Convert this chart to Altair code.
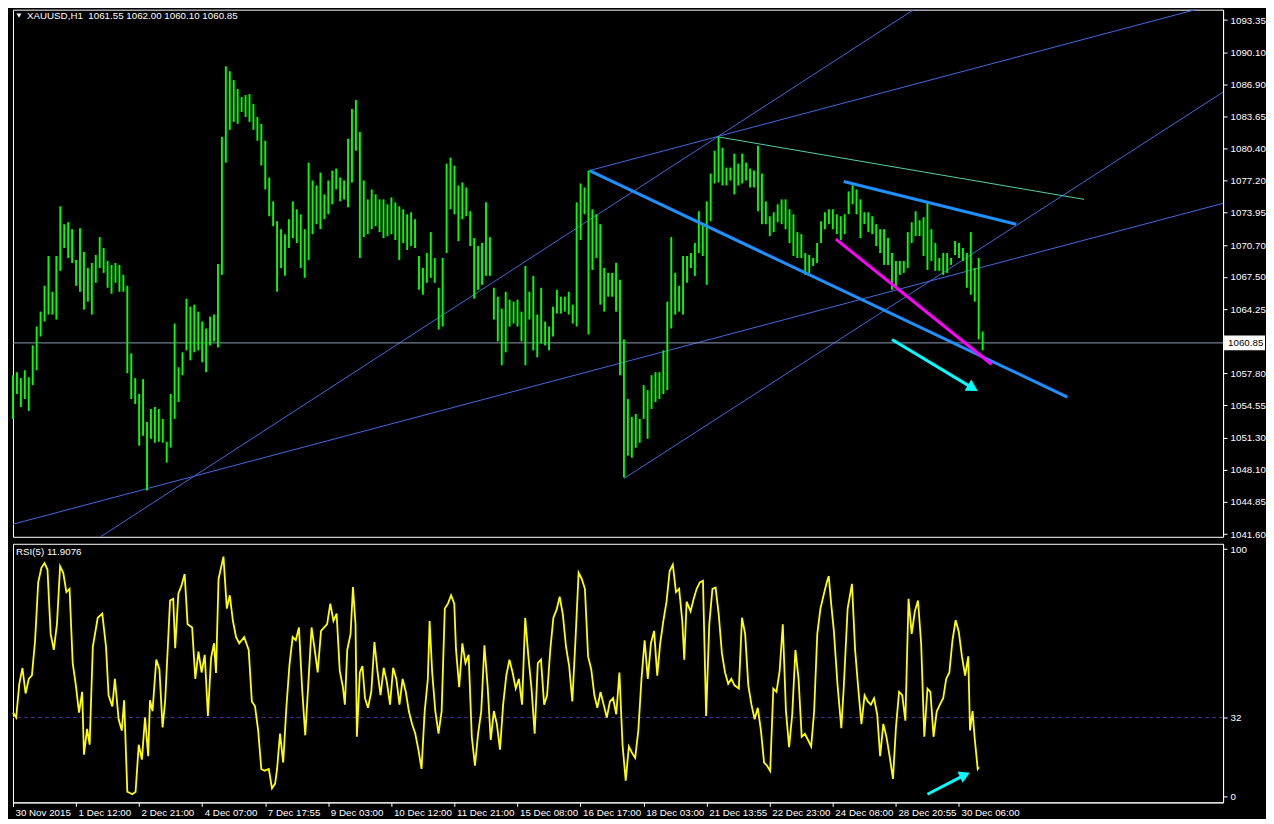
import altair as alt
import pandas as pd

# ---------------- text ----------------
symbol_title = "XAUUSD,H1\u00a0\u00a01061.55 1062.00 1060.10 1060.85"
rsi_title = "RSI(5) 11.9076"
last_close = 1060.85
last_close_label = "1060.85"

# ---------------- price bars (every 2nd hourly bar) ----------------
high = [1057.6, 1057.9, 1057.3, 1058.1, 1057.4, 1060.6, 1062.5, 1064.0, 1066.6, 1069.6,
        1066.0, 1069.6, 1074.6, 1072.8, 1073.0, 1072.3, 1069.2, 1072.4, 1070.0, 1068.4,
        1068.9, 1069.7, 1071.5, 1070.4, 1069.1, 1068.7, 1068.9, 1068.7, 1067.7, 1066.6,
        1059.8, 1057.3, 1055.7, 1057.2, 1052.9, 1054.2, 1054.4, 1054.2, 1053.2, 1050.9,
        1055.7, 1062.8, 1058.4, 1059.9, 1065.3, 1064.5, 1064.7, 1064.0, 1063.0, 1062.3,
        1063.5, 1063.7, 1068.8, 1081.6, 1088.7, 1088.2, 1087.3, 1086.4, 1085.6, 1085.8,
        1085.9, 1084.9, 1083.6, 1082.9, 1081.2, 1077.5, 1075.1, 1073.1, 1072.3, 1071.8,
        1073.3, 1075.1, 1074.3, 1073.8, 1072.3, 1079.0, 1077.2, 1076.7, 1078.0, 1075.8,
        1077.2, 1078.2, 1078.4, 1077.5, 1077.2, 1081.4, 1084.4, 1085.3, 1082.1, 1077.2,
        1075.3, 1076.3, 1075.8, 1075.3, 1075.3, 1074.8, 1075.5, 1075.0, 1074.6, 1074.3,
        1073.8, 1074.0, 1073.3, 1069.6, 1068.4, 1069.9, 1072.0, 1069.4, 1066.4, 1069.4,
        1078.9, 1079.5, 1078.7, 1076.7, 1077.0, 1076.5, 1074.1, 1071.4, 1070.6, 1070.9,
        1075.0, 1071.5, 1066.4, 1065.5, 1064.3, 1066.0, 1065.2, 1065.0, 1065.2, 1064.0,
        1068.6, 1066.0, 1067.6, 1063.7, 1066.4, 1063.0, 1062.5, 1064.5, 1066.2, 1065.5,
        1065.5, 1066.0, 1064.7, 1075.0, 1076.9, 1076.5, 1078.2, 1074.3, 1073.8, 1072.8,
        1068.4, 1067.9, 1067.9, 1068.9, 1067.2, 1061.2, 1055.2, 1053.4, 1053.7, 1053.2,
        1056.6, 1056.1, 1057.6, 1057.9, 1057.9, 1060.1, 1065.0, 1071.5, 1067.9, 1066.6,
        1069.6, 1069.6, 1069.9, 1070.9, 1074.1, 1072.8, 1075.1, 1077.9, 1080.2, 1081.6,
        1080.5, 1078.5, 1078.5, 1079.9, 1078.9, 1079.9, 1079.0, 1078.4, 1078.2, 1080.7,
        1077.9, 1075.1, 1073.6, 1074.0, 1074.8, 1075.3, 1075.3, 1074.3, 1073.8, 1072.0,
        1071.8, 1069.9, 1069.7, 1069.4, 1070.9, 1073.1, 1074.0, 1074.3, 1074.3, 1073.8,
        1073.6, 1073.8, 1076.1, 1076.7, 1076.3, 1075.3, 1074.0, 1074.0, 1073.6, 1072.8,
        1072.3, 1072.3, 1071.4, 1069.9, 1069.1, 1069.1, 1069.1, 1072.0, 1073.0, 1074.1,
        1073.2, 1073.5, 1075.1, 1072.3, 1070.9, 1069.4, 1069.9, 1069.9, 1069.4, 1071.1,
        1070.9, 1070.4, 1069.9, 1072.0, 1068.4, 1069.4, 1062.0]

low = [1053.2, 1055.7, 1054.4, 1055.2, 1054.0, 1056.6, 1058.1, 1061.5, 1063.0, 1063.7,
       1063.7, 1063.2, 1068.1, 1070.4, 1069.4, 1068.9, 1066.6, 1066.0, 1064.2, 1065.0,
       1063.7, 1066.9, 1068.4, 1067.9, 1066.4, 1065.8, 1066.9, 1066.0, 1066.0, 1057.8,
       1055.2, 1054.7, 1050.5, 1051.5, 1046.0, 1051.2, 1050.8, 1050.9, 1050.8, 1048.8,
       1050.3, 1053.2, 1054.9, 1057.6, 1060.1, 1059.1, 1059.9, 1060.1, 1058.9, 1057.9,
       1060.6, 1061.0, 1060.4, 1067.7, 1079.0, 1082.3, 1083.1, 1082.9, 1084.1, 1083.6,
       1083.1, 1082.3, 1081.2, 1078.7, 1076.3, 1073.6, 1072.6, 1066.0, 1068.4, 1067.6,
       1070.4, 1071.4, 1070.9, 1068.4, 1067.4, 1069.2, 1071.8, 1072.8, 1072.3, 1073.3,
       1073.8, 1074.8, 1076.3, 1075.1, 1075.3, 1074.5, 1077.0, 1080.2, 1069.4, 1071.5,
       1071.8, 1072.3, 1072.6, 1072.0, 1071.4, 1071.6, 1071.8, 1071.2, 1069.2, 1070.9,
       1070.2, 1070.6, 1070.4, 1066.2, 1065.7, 1066.9, 1067.4, 1066.9, 1062.2, 1062.5,
       1069.9, 1074.3, 1073.8, 1071.1, 1073.3, 1073.6, 1070.6, 1065.3, 1066.2, 1066.7,
       1067.6, 1067.6, 1063.2, 1061.0, 1058.6, 1059.9, 1062.5, 1062.8, 1062.5, 1061.0,
       1058.6, 1063.2, 1060.1, 1059.4, 1060.8, 1060.6, 1060.1, 1061.5, 1063.8, 1063.8,
       1064.0, 1063.7, 1062.8, 1062.5, 1071.2, 1073.8, 1061.7, 1068.2, 1069.4, 1064.7,
       1064.0, 1065.5, 1065.5, 1064.0, 1057.6, 1047.3, 1049.5, 1049.3, 1050.3, 1050.8,
       1053.2, 1051.2, 1054.2, 1054.9, 1055.2, 1055.7, 1056.1, 1062.3, 1063.7, 1064.0,
       1063.7, 1066.9, 1068.4, 1067.6, 1069.9, 1069.6, 1066.7, 1073.1, 1076.9, 1077.0,
       1076.7, 1076.7, 1077.2, 1075.8, 1076.7, 1076.9, 1077.2, 1076.5, 1076.5, 1074.1,
       1072.8, 1072.8, 1071.6, 1072.0, 1073.0, 1072.8, 1072.3, 1070.9, 1069.6, 1069.4,
       1069.4, 1067.7, 1067.9, 1068.6, 1068.9, 1070.9, 1072.3, 1072.8, 1072.3, 1071.8,
       1071.2, 1071.8, 1073.8, 1074.8, 1073.8, 1071.4, 1072.8, 1072.0, 1071.8, 1070.6,
       1069.9, 1068.7, 1068.7, 1066.2, 1066.4, 1067.7, 1067.9, 1068.4, 1070.9, 1071.6,
       1071.6, 1069.6, 1068.2, 1069.1, 1068.1, 1068.1, 1067.7, 1067.9, 1068.7, 1069.7,
       1069.4, 1069.1, 1066.4, 1065.7, 1065.0, 1061.2, 1060.1]

bar_index = list(range(0, 2 * len(high), 2))

# ---------------- RSI(5) ----------------
rsi_bar = [0, 1.6, 3.2, 4.8, 6.4, 8, 9.6, 11.2, 12.8, 14.4, 16, 17.5, 19.1, 20.7, 22.3, 23.9,
           25.5, 27.1, 28.7, 30.3, 31.9, 33.5, 35.1, 36, 37.6, 38.9, 40.5, 43, 45.3, 47.2,
           48.5, 50.4, 51.7, 53.6, 55.2, 56.4, 58, 60.6, 62.2, 63.8, 65.4, 67, 68.6, 69.5,
           70.8, 72.7, 74.3, 75.9, 77.2, 79.7, 81.3, 82.3, 83.9, 85.5, 87.1, 88.6, 90.9,
           92.5, 94.1, 95.7, 97.3, 98.9, 100.5, 102, 103, 104.3, 106.8, 108.5, 110, 111.6,
           113.2, 114.8, 117.3, 119.6, 121.2, 122.8, 124.4, 126, 127.6, 129.8, 131.4, 133,
           134, 135.5, 137.1, 138.7, 140.3, 141.9, 143.5, 145.1, 146.7, 148.3, 149.9, 151.5,
           153.1, 154.6, 156.3, 157.9, 159.4, 161, 162.6, 164.2, 165.8, 167.4, 168.4, 169.6,
           171.3, 172.5, 173.8, 174.5, 176, 177.3, 178.6, 180.1, 181.8, 183.4, 185, 186.5,
           188.1, 189.7, 191.3, 192.9, 194.5, 196.1, 197.7, 199.3, 200.9, 202.5, 204.1,
           205.7, 207.3, 208.9, 210.5, 211.4, 212.7, 214.3, 215.9, 217.5, 219.1, 220.7,
           222.3, 223.9, 224.8, 226.4, 228, 229.6, 231.2, 232.8, 234.4, 236, 237.6, 239.2,
           240.8, 242.4, 244, 245.5, 247.1, 248.7, 250.3, 251.9, 253.5, 255.1, 256.7, 258.3,
           259.9, 261.5, 263.1, 264.7, 266.3, 267.9, 269.5, 271, 272.6, 274.2, 275.8, 277.4,
           279, 280.6, 282.2, 283.8, 285.4, 287, 288.6, 290.2, 291.8, 293.4, 295, 296.5,
           298.1, 299.7, 301.3, 302.9, 304.5, 306.1, 307.7, 309.3, 310.9, 312.5, 314.1,
           315.7, 317.3, 318.9, 320.5, 322.1, 323.7, 325.3, 326.9, 328.4, 330, 331.6, 333.2,
           334.8, 336.4, 338, 339.6, 340.6, 341.8, 343.8, 345.4, 346.9, 348.5, 350.1, 351.7,
           353.3, 354.9, 356.5, 358.1, 359.7, 361.3, 362.9, 364.5, 366.1, 368.3, 369.9,
           371.5, 373.1, 374.7, 376.3, 377.9, 379.5, 381.1, 382.6, 384.2, 385.8, 387.4, 389,
           390.6, 392.2, 393.8, 395.4, 397, 398.6, 400.2, 401.8, 403.4, 405, 406.5, 408.1,
           409.7, 411.3, 412.9, 413.9, 415.2, 416.5, 418.4, 420.3, 421.5, 423.5, 425.7,
           427.3, 428.9, 430.5, 432.1, 433.7, 435.3, 436.9, 438.5, 440, 441.6, 443.2, 444.8,
           446.5, 448, 449.6, 451.2, 452.8, 454.4, 456, 457.6, 459.2, 460.8, 462.4, 464,
           465.5, 467.1, 468.7, 470.3, 472, 473.5, 475.1, 476.7, 478.3, 479.9, 481.5, 483.1,
           484.7, 485.6, 486.9, 487.9, 489.5, 490.1]
rsi_val = [34, 32, 45.6, 52, 41.7, 47.6, 49, 63, 86.6, 92.5, 94.4, 91.8, 65.8, 59.3, 69.7, 93.1,
           90.5, 82.7, 84, 54, 45, 34, 42.4, 17, 27.4, 21, 60.6, 72.3, 74, 60.6,
           41, 36.5, 47.6, 31.3, 26.7, 39, 2, 1, 2, 21, 15, 32, 16.4, 39,
           34.6, 55.4, 51.5, 28, 38.5, 79.3, 80, 60, 82, 85.3, 90, 69.7, 68.4,
           47.6, 58.6, 50.2, 57.3, 32.6, 56, 62, 50, 88, 97, 76, 81.4, 71,
           64.5, 62, 64.5, 59.3, 38.5, 36.5, 26.8, 11.2, 10.5, 11.2, 3.4, 5.3,
           11.2, 25.5, 13.8, 35.9, 53.4, 64.5, 63.2, 68.4, 43.7, 24.8, 46.3, 68.4,
           59.3, 50.2, 67, 68.4, 69.7, 78, 71, 74, 50.8, 44.3, 37.2, 59.3,
           65.8, 84.7, 69.7, 24.2, 50.2, 52.8, 39.8, 35.9, 42.4, 62.5, 50.2, 41,
           52.1, 46.3, 37.2, 52.1, 47.6, 37.2, 47.6, 42.4, 34.4, 29.4, 25.5,
           19, 11.2, 34.6, 47.6, 71, 50.2, 34.6, 25.5, 34.6, 76, 78,
           81.4, 78, 59.3, 44.3, 62, 54, 57.3, 24.2, 12.5, 25.5, 34.6, 61.2,
           45, 22.9, 34.6, 29.4, 19, 37.2, 48.9, 55.4, 50.2, 43.7, 47.6, 37.2,
           72.3, 56.7, 43.7, 25.5, 54, 55.4, 37.2, 41, 59.3, 72.3, 75.5, 80.8,
           73.6, 60.6, 52.8, 38.5, 63.2, 90.5, 88, 84, 56.7, 51.5, 41, 35.9,
           42.3, 37.2, 32, 38.5, 39.8, 33.3, 50.2, 20.8, 6.5, 20.3, 17.7,
           15.7, 26.8, 47.6, 63.2, 47.6, 62, 67, 48.9, 62, 71, 78.8, 91.2,
           93.8, 82.7, 84, 71, 55.4, 78.8, 74.9, 80, 84, 86.6, 87.3, 32.6,
           69.7, 84, 84.5, 73.6, 58, 50.2, 45.6, 47.6, 45, 43.7, 72.3,
           65.8, 45, 37.2, 31.3, 35.9, 26.8, 13.8, 12.5, 10.4, 43.7, 42.4, 50.8,
           69.7, 34.6, 20, 33.3, 59.3, 47.6, 24.2, 25.4, 22.9, 20.3, 34.4, 65.8,
           76, 81.4, 86.6, 89.2, 77.5, 67.1, 45, 27.7, 43.7, 76, 86,
           59.3, 43.7, 29.3, 41, 38.5, 37.2, 39.8, 33.3, 16.4, 29.4, 24.2, 16.4,
           7.2, 27.8, 42.4, 41, 30.7, 80, 65.8, 74.9, 79.3, 62, 24.2, 43.7,
           42.4, 24.2, 34.4, 37.2, 39.8, 47.6, 50.2, 63.2, 71.3, 66.7, 56.7, 48.9,
           56.7, 26.8, 34.6, 24.2, 11.2, 11.9]
rsi_level = 32

# ---------------- axes ----------------
price_ticks = [1093.35, 1090.10, 1086.90, 1083.65, 1080.40, 1077.20, 1073.95, 1070.70,
               1067.50, 1064.25, 1057.80, 1054.55, 1051.30, 1048.10, 1044.85, 1041.60]
rsi_ticks = [0, 32, 100]
time_ticks = [0, 32, 64, 96, 128, 160, 192, 224, 256, 288, 320, 352, 384, 416, 448, 480]
time_labels = ["30 Nov 2015", "1 Dec 12:00", "2 Dec 21:00", "4 Dec 07:00", "7 Dec 17:55",
               "9 Dec 03:00", "10 Dec 12:00", "11 Dec 21:00", "15 Dec 08:00", "16 Dec 17:00",
               "18 Dec 03:00", "21 Dec 13:55", "22 Dec 23:00", "24 Dec 08:00", "28 Dec 20:55",
               "30 Dec 06:00"]

# ---------------- drawn objects (bar, price) ----------------
thin_x1 = [0, 40, 292.5, 310]
thin_p1 = [1042.6, 1040.76, 1078.2, 1047.2]
thin_x2 = [614, 457, 600, 614]
thin_p2 = [1074.9, 1094.4, 1094.4, 1086.1]

green_x1, green_p1, green_x2, green_p2 = [357.5], [1081.6], [543.5], [1075.3]

thick_x1 = [292.5, 421.5]
thick_p1 = [1078.2, 1077.1]
thick_x2 = [535, 509]
thick_p2 = [1055.4, 1072.8]

mag_x1, mag_p1, mag_x2, mag_p2 = [417.5], [1071.3], [496.5], [1058.7]

arrow_x1, arrow_p1, arrow_x2, arrow_p2 = [446], [1061.2], [487], [1056.3]
rarrow_x1, rarrow_v1, rarrow_x2, rarrow_v2 = [464], [1.0], [483], [8.8]

# ---------------- layout ----------------
W = 1212
H1 = 528
H2 = 259
FONT = "Liberation Sans"
FS = 9.8
WHITE = "#ffffff"

x_scale = alt.Scale(domain=[0, 614], nice=False, zero=False)
p_scale = alt.Scale(domain=[1041.33, 1094.4], nice=False, zero=False)
r_scale = alt.Scale(domain=[-2.3, 102.2], nice=False, zero=False)

price_axis = alt.Axis(orient="right", values=price_ticks, format=".2f", labelColor=WHITE,
                      tickColor=WHITE, domainColor=WHITE, tickSize=4, labelFontSize=FS,
                      labelFont=FONT, labelPadding=3, grid=False, title=None,
                      labelOverlap=False, labelBound=False, labelFlush=False)
rsi_axis = alt.Axis(orient="right", values=rsi_ticks, format="d", labelColor=WHITE,
                    tickColor=WHITE, domainColor=WHITE, tickSize=4, labelFontSize=FS,
                    labelFont=FONT, labelPadding=3, grid=False, title=None,
                    labelOverlap=False, labelBound=False, labelFlush=False)
label_js = "[" + ",".join("'" + s + "'" for s in time_labels) + "]"
time_axis = alt.Axis(orient="bottom", values=time_ticks,
                     labelExpr=label_js + "[round(datum.value/32)]",
                     labelAlign="left", labelColor=WHITE, tickColor=WHITE, domainColor=WHITE,
                     tickSize=4, labelFontSize=FS, labelFont=FONT, labelPadding=1,
                     labelOffset=2, labelOverlap=False, labelBound=False, labelFlush=False,
                     grid=False, title=None)


def px(field):
    return alt.X(field, scale=x_scale, axis=None)


def py(field):
    return alt.Y(field, scale=p_scale, axis=price_axis)


def rx(field):
    return alt.X(field, scale=x_scale, axis=time_axis)


def ry(field):
    return alt.Y(field, scale=r_scale, axis=rsi_axis)


bars_df = pd.DataFrame({"bar": bar_index, "high": high, "low": low})
bars = alt.Chart(bars_df).mark_rule(color="#00ff00", strokeWidth=1.9).encode(
    x=px("bar:Q"), y=py("low:Q"), y2="high:Q")

close_line = alt.Chart(pd.DataFrame({"p": [last_close]})).mark_rule(
    color="#8e9bb3", strokeWidth=1).encode(y=py("p:Q"))


def seg_layer(x1, p1, x2, p2, color, width, xenc, yenc):
    df = pd.DataFrame({"x1": x1, "p1": p1, "x2": x2, "p2": p2})
    return alt.Chart(df).mark_rule(color=color, strokeWidth=width, clip=True).encode(
        x=xenc("x1:Q"), x2="x2:Q", y=yenc("p1:Q"), y2="p2:Q")


thin = seg_layer(thin_x1, thin_p1, thin_x2, thin_p2, "#4169e1", 1, px, py)
green = seg_layer(green_x1, green_p1, green_x2, green_p2, "#55cfa6", 1, px, py)
thick = seg_layer(thick_x1, thick_p1, thick_x2, thick_p2, "#1e90ff", 3, px, py)
magenta = seg_layer(mag_x1, mag_p1, mag_x2, mag_p2, "#ff00ff", 3, px, py)
arrow = seg_layer(arrow_x1, arrow_p1, arrow_x2, arrow_p2, "#00ffff", 3, px, py)
arrow_head = alt.Chart(pd.DataFrame({"x": arrow_x2, "p": arrow_p2})).mark_point(
    shape="triangle-right", filled=True, color="#00ffff", size=170, angle=31, opacity=1
).encode(x=px("x:Q"), y=py("p:Q"))

box_df = pd.DataFrame({"hi": [last_close + 0.75], "lo": [last_close - 0.75],
                       "p": [last_close], "t": [last_close_label]})
price_box = alt.Chart(box_df).mark_rect(color=WHITE).encode(
    x=alt.value(W + 1), x2=alt.value(W + 42), y=py("hi:Q"), y2="lo:Q")
price_box_text = alt.Chart(box_df).mark_text(
    align="left", baseline="middle", color="#000000", font=FONT, fontSize=FS).encode(
    x=alt.value(W + 5), y=py("p:Q"), text="t:N")

title_df = pd.DataFrame({"t": [symbol_title]})
title_tri = alt.Chart(title_df).mark_point(
    shape="triangle-down", filled=True, color=WHITE, size=24, opacity=1).encode(
    x=alt.value(6), y=alt.value(6))
title_text = alt.Chart(title_df).mark_text(
    align="left", baseline="middle", color=WHITE, font=FONT, fontSize=FS).encode(
    x=alt.value(14), y=alt.value(6), text="t:N")

price_panel = alt.layer(
    thin, green, close_line, bars, thick, magenta, arrow, arrow_head,
    price_box, price_box_text, title_tri, title_text
).properties(width=W, height=H1)

# RSI panel
rsi_df = pd.DataFrame({"bar": rsi_bar, "rsi": rsi_val, "order": list(range(len(rsi_val)))})
rsi_line = alt.Chart(rsi_df).mark_line(color="#ffff00", strokeWidth=1.8).encode(
    x=rx("bar:Q"), y=ry("rsi:Q"), order="order:Q")
lvl = alt.Chart(pd.DataFrame({"v": [rsi_level]})).mark_rule(
    color="#4b2a8c", strokeDash=[4, 3], strokeWidth=1).encode(y=ry("v:Q"))
rarrow = seg_layer(rarrow_x1, rarrow_v1, rarrow_x2, rarrow_v2, "#00ffff", 3, rx, ry)
rarrow_head = alt.Chart(pd.DataFrame({"x": rarrow_x2, "v": rarrow_v2})).mark_point(
    shape="triangle-right", filled=True, color="#00ffff", size=150, angle=335, opacity=1
).encode(x=rx("x:Q"), y=ry("v:Q"))
rsi_label = alt.Chart(pd.DataFrame({"t": [rsi_title]})).mark_text(
    align="left", baseline="middle", color=WHITE, font=FONT, fontSize=FS).encode(
    x=alt.value(3), y=alt.value(8), text="t:N")

rsi_panel = alt.layer(lvl, rsi_line, rarrow, rarrow_head, rsi_label).properties(
    width=W, height=H2)

chart = alt.vconcat(price_panel, rsi_panel, spacing=3).properties(
    background="#000000",
    padding={"left": 0, "top": 0, "right": 0, "bottom": 0},
).configure_view(stroke=WHITE, strokeWidth=1)

chart.save("out.html", embed_options={"renderer": "svg", "actions": False})
